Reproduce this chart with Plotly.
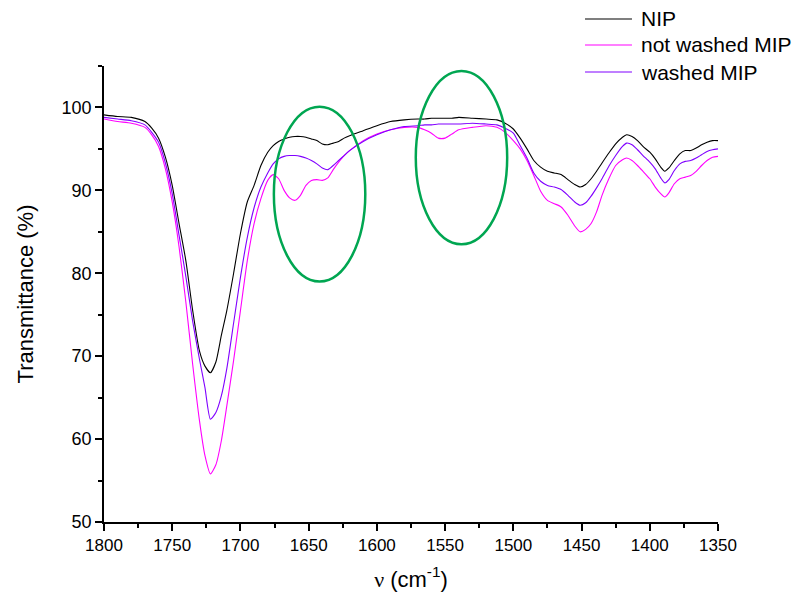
import plotly.graph_objects as go

wavenumber = [1800, 1790, 1780, 1770, 1765, 1760, 1755, 1750, 1745, 1740,
              1735, 1730, 1726, 1722, 1718, 1714, 1710, 1705, 1700, 1695,
              1690, 1685, 1680, 1676, 1672, 1668, 1664, 1660, 1656, 1652,
              1648, 1644, 1640, 1636, 1632, 1628, 1624, 1620, 1610, 1600,
              1590, 1580, 1570, 1565, 1560, 1555, 1550, 1545, 1540, 1530,
              1520, 1512, 1506, 1500, 1495, 1490, 1485, 1480, 1475, 1470,
              1465, 1460, 1455, 1451, 1447, 1443, 1439, 1435, 1430, 1425,
              1420, 1417, 1413, 1409, 1405, 1400, 1396, 1392, 1389, 1386,
              1382, 1378, 1374, 1370, 1366, 1362, 1358, 1354, 1350]

nip = [99.1, 98.9, 98.8, 98.3, 97.5, 96.3, 94.0, 90.6, 86.0, 81.5,
       75.5, 70.6, 68.8, 68.0, 69.3, 72.5, 75.5, 80.0, 84.8, 88.6,
       90.6, 93.0, 94.6, 95.4, 95.9, 96.2, 96.4, 96.5, 96.5, 96.4,
       96.2, 96.0, 95.6, 95.5, 95.7, 95.9, 96.3, 96.6, 97.2, 97.8,
       98.3, 98.5, 98.6, 98.6, 98.7, 98.7, 98.7, 98.7, 98.8, 98.7,
       98.6, 98.5, 98.1, 97.4, 96.3, 95.0, 93.6, 92.8, 92.3, 92.1,
       91.9, 91.3, 90.7, 90.4, 90.7, 91.4, 92.3, 93.3, 94.5, 95.6,
       96.4, 96.7, 96.5, 96.0, 95.3, 94.6, 93.8, 92.8, 92.3, 92.7,
       93.6, 94.4, 94.8, 94.8, 95.1, 95.5, 95.8, 96.0, 96.0]

not_washed_mip = [98.6, 98.3, 98.1, 97.6, 96.7, 95.3, 92.6, 88.6, 83.2, 76.5,
                  69.0, 62.2, 58.0, 55.8, 56.9, 59.8, 64.0, 69.5, 75.5, 81.5,
                  86.0, 89.0, 91.2, 91.9, 91.4, 90.0, 89.1, 88.8, 89.4, 90.6,
                  91.2, 91.3, 91.2, 91.5, 92.5, 93.4, 94.2, 94.8, 96.0, 96.8,
                  97.3, 97.6, 97.6, 97.3, 96.9, 96.3, 96.3, 96.8, 97.3, 97.6,
                  97.8, 97.6, 97.0, 96.0, 95.0, 93.6, 91.8, 89.9, 88.8, 88.4,
                  88.0, 87.0, 85.7, 85.0, 85.3, 86.0, 87.4, 89.4, 91.4, 93.0,
                  93.7, 93.9, 93.6, 93.0, 92.3, 91.4, 90.4, 89.6, 89.2, 89.7,
                  90.8, 91.4, 91.6, 91.8, 92.3, 93.0, 93.6, 94.0, 94.1]

washed_mip = [98.8, 98.6, 98.4, 97.9, 97.0, 95.8, 93.3, 89.6, 84.6, 79.6,
              74.2, 69.6, 66.2, 62.4, 63.2, 65.2, 68.5, 74.0, 79.5, 84.3,
              87.9, 90.4, 92.1, 93.2, 93.8, 94.1, 94.2, 94.2, 94.1, 93.9,
              93.6, 93.2, 92.7, 92.5, 93.0, 93.6, 94.2, 94.8, 95.9, 96.7,
              97.3, 97.7, 97.8, 97.9, 97.9, 98.0, 98.0, 98.0, 98.0, 98.1,
              98.0, 97.9, 97.5, 96.9, 95.4, 93.9, 92.1, 91.1, 90.6, 90.4,
              90.1, 89.4, 88.6, 88.2, 88.5, 89.3, 90.3, 91.4, 92.9, 94.2,
              95.3, 95.7, 95.5, 94.9, 94.2, 93.4, 92.6, 91.5, 90.9, 91.3,
              92.4, 93.2, 93.5, 93.6, 93.9, 94.3, 94.7, 94.9, 95.0]

series_names = ["NIP", "not washed MIP", "washed MIP"]
series_values = [nip, not_washed_mip, washed_mip]
series_colors = ["#000000", "#FF00FF", "#8000FF"]

# highlighted regions (wavenumber range, transmittance range)
ellipse_x = [(1675.5, 1608.5), (1571.5, 1504.5)]
ellipse_y = [(79.0, 100.1), (83.5, 104.4)]

font_family = "Liberation Sans, Arial, sans-serif"

fig = go.Figure()
for name, vals, col in zip(series_names, series_values, series_colors):
    fig.add_trace(go.Scatter(x=wavenumber, y=vals, mode="lines", name=name, showlegend=False,
                             line=dict(color=col, width=1.1, shape="spline", smoothing=0.6)))

for (xa, xb), (ya, yb) in zip(ellipse_x, ellipse_y):
    fig.add_shape(type="circle", xref="x", yref="y", x0=xa, x1=xb, y0=ya, y1=yb,
                  line=dict(color="#00A651", width=2.5))

# legend drawn in paper coordinates (top-right, outside the plot area)
legend_rows_y = [1.1031, 1.0461, 0.9868]
for name, col, ly in zip(series_names, series_colors, legend_rows_y):
    fig.add_shape(type="line", xref="paper", yref="paper", x0=0.7834, x1=0.8599, y0=ly, y1=ly,
                  line=dict(color=col, width=1.2))
    fig.add_annotation(xref="paper", yref="paper", x=0.8713, y=ly, text=name, showarrow=False,
                       xanchor="left", yanchor="middle", font=dict(size=21, family=font_family, color="black"))

fig.update_layout(
    width=792, height=593,
    margin=dict(l=104, r=74, t=66, b=71, autoexpand=False),
    paper_bgcolor="white", plot_bgcolor="white",
    showlegend=False,
    font=dict(family=font_family, size=17, color="black"),
    xaxis=dict(range=[1800, 1350], dtick=50, tick0=1350,
               showline=True, linecolor="black", linewidth=1.5,
               ticks="outside", ticklen=7, tickwidth=1.5, tickcolor="black",
               minor=dict(dtick=25, ticks="outside", ticklen=4, tickwidth=1.5, tickcolor="black"),
               showgrid=False, zeroline=False, mirror=False,
               tickfont=dict(size=17),
               title=dict(text="<span style='font-family:Liberation Serif, Times New Roman, serif'>ν</span> (cm<sup>-1</sup>)",
                          font=dict(size=22), standoff=17)),
    yaxis=dict(range=[50, 105], dtick=10, tick0=50,
               showline=True, linecolor="black", linewidth=1.5,
               ticks="outside", ticklen=7, tickwidth=1.5, tickcolor="black",
               minor=dict(dtick=5, ticks="outside", ticklen=4, tickwidth=1.5, tickcolor="black"),
               showgrid=False, zeroline=False, mirror=False,
               tickfont=dict(size=18),
               title=dict(text="Transmittance (%)", font=dict(size=22), standoff=22)),
)

fig.write_html("out.html")
